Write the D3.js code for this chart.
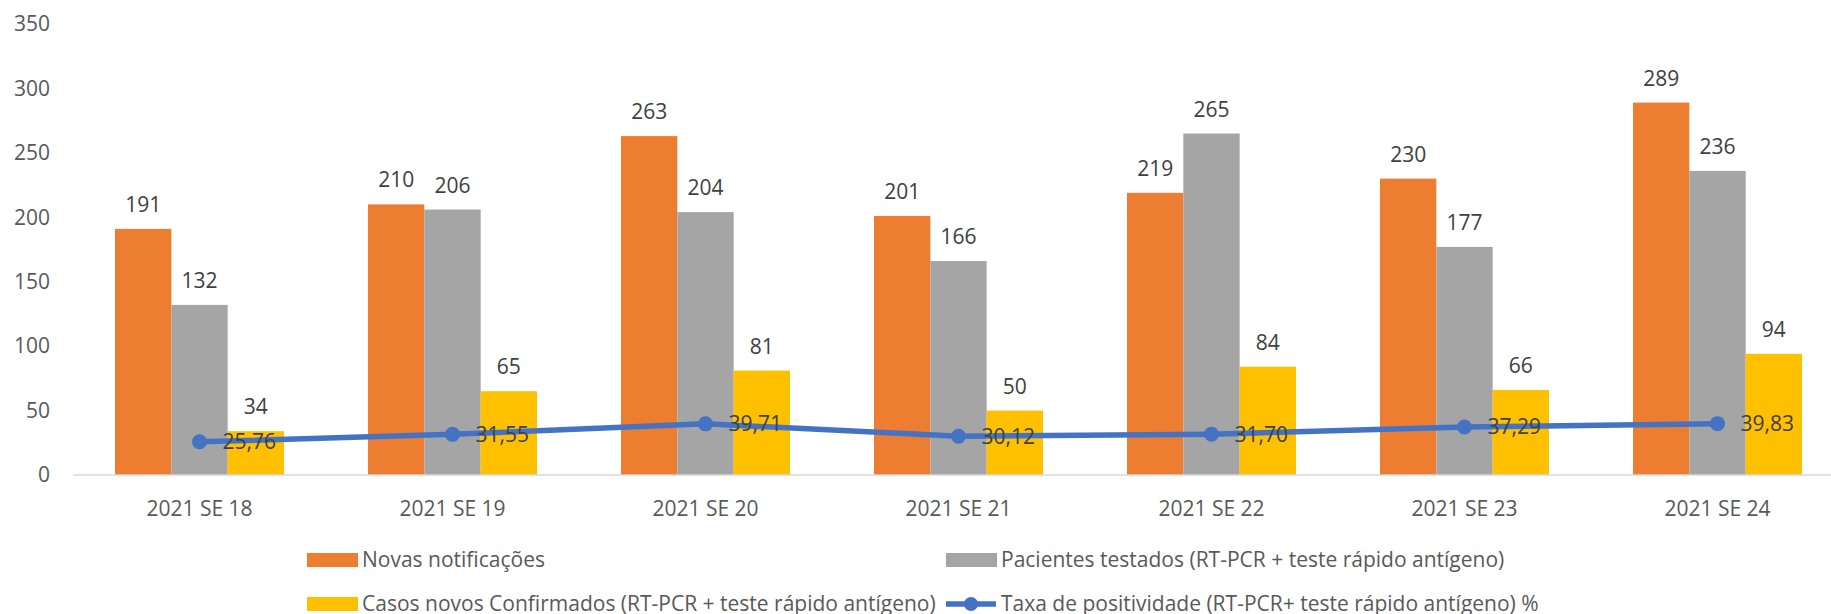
<!DOCTYPE html>
<html>
<head>
<meta charset="utf-8">
<script src="https://cdn.jsdelivr.net/npm/d3@7"></script>
<style>
  body { margin: 0; background: #fff; }
  text { font-family: 'Open Sans', sans-serif; }
</style>
</head>
<body>
<div id="chart"></div>
<script>
const categories = ['2021 SE 18', '2021 SE 19', '2021 SE 20', '2021 SE 21', '2021 SE 22', '2021 SE 23', '2021 SE 24']
const novasNotificacoes = [191, 210, 263, 201, 219, 230, 289]
const pacientesTestados = [132, 206, 204, 166, 265, 177, 236]
const casosConfirmados = [34, 65, 81, 50, 84, 66, 94]
const taxaPositividade = [25.76, 31.55, 39.71, 30.12, 31.70, 37.29, 39.83]
const yTicks = [0, 50, 100, 150, 200, 250, 300, 350]

const barSeries = [
  { name: 'Novas notificações', values: novasNotificacoes, color: '#ED7D31' },
  { name: 'Pacientes testados (RT-PCR + teste rápido antígeno)', values: pacientesTestados, color: '#A5A5A5' },
  { name: 'Casos novos Confirmados (RT-PCR + teste rápido antígeno)', values: casosConfirmados, color: '#FFC000' }
]
const lineName = 'Taxa de positividade (RT-PCR+ teste rápido antígeno) %'
const lineColor = '#4472C4'

const width = 1831
const height = 614

const svg = d3
  .select('#chart')
  .append('svg')
  .attr('width', width)
  .attr('height', height)

const x = d3.scaleBand().domain(categories).range([73, 1844]).paddingInner(0.332).paddingOuter(0.166)
const xSub = d3.scaleBand().domain(d3.range(barSeries.length)).range([0, x.bandwidth()])
const y = d3.scaleLinear().domain([0, 350]).range([475, 24])

// y tick labels (no gridlines)
svg
  .selectAll('.ytick')
  .data(yTicks)
  .enter()
  .append('text')
  .attr('class', 'ytick')
  .attr('x', 50)
  .attr('y', (d) => y(d))
  .attr('dy', '0.35em')
  .attr('text-anchor', 'end')
  .attr('fill', '#595959')
  .style('font-size', '21px')
  .text((d) => d)

// bars
barSeries.forEach((s, si) => {
  svg
    .selectAll(`.bar-${si}`)
    .data(s.values)
    .enter()
    .append('rect')
    .attr('class', `bar-${si}`)
    .attr('x', (d, i) => x(categories[i]) + xSub(si))
    .attr('y', (d) => y(d))
    .attr('width', xSub.bandwidth())
    .attr('height', (d) => y(0) - y(d))
    .attr('fill', s.color)

  svg
    .selectAll(`.label-${si}`)
    .data(s.values)
    .enter()
    .append('text')
    .attr('class', `label-${si}`)
    .attr('x', (d, i) => x(categories[i]) + xSub(si) + xSub.bandwidth() / 2)
    .attr('y', (d) => y(d) - 17)
    .attr('text-anchor', 'middle')
    .attr('fill', '#404040')
    .style('font-size', '21px')
    .text((d) => d)
})

// x axis line
svg
  .append('line')
  .attr('x1', 73)
  .attr('x2', 1844)
  .attr('y1', y(0))
  .attr('y2', y(0))
  .attr('stroke', '#D9D9D9')
  .attr('stroke-width', 1.5)

svg
  .selectAll('.xlabel')
  .data(categories)
  .enter()
  .append('text')
  .attr('class', 'xlabel')
  .attr('x', (d) => x(d) + x.bandwidth() / 2)
  .attr('y', 516)
  .attr('text-anchor', 'middle')
  .attr('fill', '#595959')
  .style('font-size', '21px')
  .text((d) => d)

// line series
const cx = (i) => x(categories[i]) + x.bandwidth() / 2
const line = d3
  .line()
  .x((d, i) => cx(i))
  .y((d) => y(d))

svg
  .append('path')
  .datum(taxaPositividade)
  .attr('d', line)
  .attr('fill', 'none')
  .attr('stroke', lineColor)
  .attr('stroke-width', 5.5)
  .attr('stroke-linejoin', 'round')

svg
  .selectAll('.dot')
  .data(taxaPositividade)
  .enter()
  .append('circle')
  .attr('class', 'dot')
  .attr('cx', (d, i) => cx(i))
  .attr('cy', (d) => y(d))
  .attr('r', 7.5)
  .attr('fill', lineColor)

svg
  .selectAll('.dot-label')
  .data(taxaPositividade)
  .enter()
  .append('text')
  .attr('class', 'dot-label')
  .attr('x', (d, i) => cx(i) + 23)
  .attr('y', (d) => y(d))
  .attr('dy', '0.35em')
  .attr('fill', '#404040')
  .style('font-size', '21px')
  .text((d) => d.toFixed(2).replace('.', ','))

// legend
const legendItems = [
  { name: barSeries[0].name, color: barSeries[0].color, type: 'bar', lx: 307, ly: 560 },
  { name: barSeries[1].name, color: barSeries[1].color, type: 'bar', lx: 946, ly: 560 },
  { name: barSeries[2].name, color: barSeries[2].color, type: 'bar', lx: 307, ly: 604 },
  { name: lineName, color: lineColor, type: 'line', lx: 946, ly: 604 }
]

const legend = svg
  .selectAll('.legend')
  .data(legendItems)
  .enter()
  .append('g')
  .attr('class', 'legend')
  .attr('transform', (d) => `translate(${d.lx}, ${d.ly})`)

legend
  .filter((d) => d.type === 'bar')
  .append('rect')
  .attr('x', 0)
  .attr('y', -7)
  .attr('width', 51)
  .attr('height', 14)
  .attr('fill', (d) => d.color)

const lineLegend = legend.filter((d) => d.type === 'line')
lineLegend
  .append('line')
  .attr('x1', 0)
  .attr('x2', 50)
  .attr('stroke', (d) => d.color)
  .attr('stroke-width', 5.5)
lineLegend
  .append('circle')
  .attr('cx', 25)
  .attr('r', 7)
  .attr('fill', (d) => d.color)

legend
  .append('text')
  .attr('x', 55)
  .attr('dy', '0.35em')
  .attr('fill', '#595959')
  .style('font-size', '21px')
  .text((d) => d.name)
</script>
</body>
</html>
